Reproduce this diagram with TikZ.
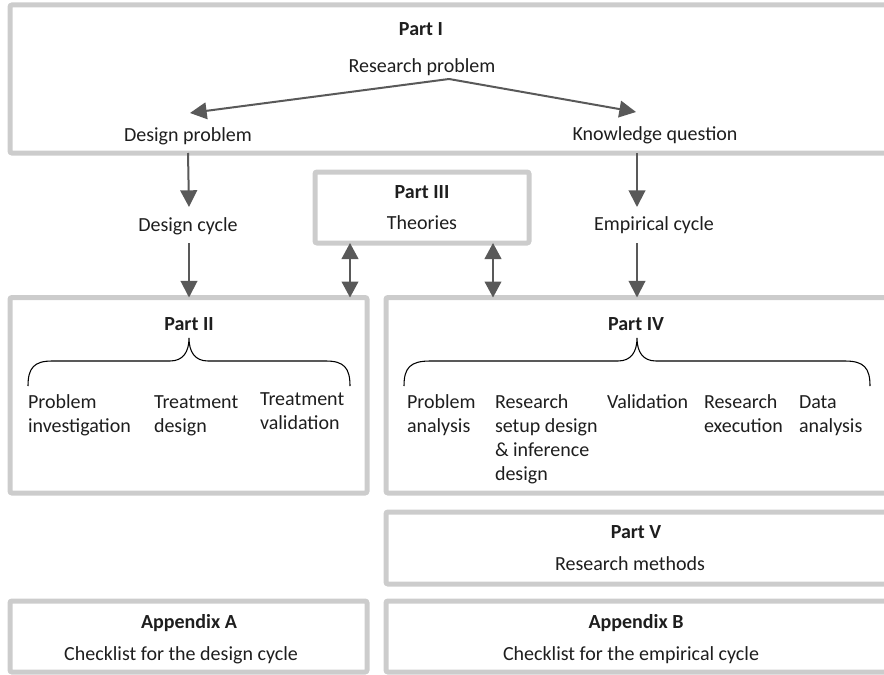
\documentclass[tikz,border=0pt]{standalone}
\usepackage{fontspec}
\setmainfont{Carlito}
\usetikzlibrary{arrows.meta,calc,fit}
\definecolor{boxgray}{RGB}{204,204,204}
\definecolor{arrgray}{RGB}{89,89,89}
\definecolor{txt}{RGB}{30,30,30}
\begin{document}
\begin{tikzpicture}[x=0.75pt,y=-0.75pt,
  box/.style={draw=boxgray, line width=3.75pt, rounded corners=1.5pt, inner sep=0pt, outer sep=0pt},
  lbl/.style={inner sep=0pt, outer sep=0pt, text=txt, font=\fontsize{15}{18}\selectfont, anchor=base},
  head/.style={lbl, font=\fontsize{15}{18}\selectfont\bfseries},
  col/.style={lbl, anchor=base west, align=left},
  arr/.style={draw=arrgray, line width=1.5pt, -{Triangle[length=12.5pt,width=12.5pt]}},
  darr/.style={draw=arrgray, line width=1.5pt, {Triangle[length=12pt,width=12.5pt]}-{Triangle[length=12pt,width=12.5pt]}},
  brace/.style={draw=black, line width=0.8pt}
]
\clip (0,0) rectangle (884,674);

% boxes
\node[box, fit={(10,5) (900,153)}] (p1) {};
\node[box, fit={(315,172) (529,243)}] (p3) {};
\node[box, fit={(10,297.5) (367,493)}] (p2) {};
\node[box, fit={(386,297.5) (900,493)}] (p4) {};
\node[box, fit={(386,512) (900,584)}] (p5) {};
\node[box, fit={(10,601) (367,672)}] (pa) {};
\node[box, fit={(386,601) (900,672)}] (pb) {};

% Part I
\node[head] (t1) at (421,36) {Part I};
\node[lbl] (rp) at (422,73) {Research problem};
\node[lbl] (dp) at (188,141) {Design problem};
\node[lbl] (kq) at (655,140) {Knowledge question};

% cycles
\node[lbl] (dc) at (188,231) {Design cycle};
\node[lbl] (ec) at (654,230) {Empirical cycle};

% Part III
\node[head] (t3) at (422,198) {Part III};
\node[lbl] (th) at (422,229) {Theories};

% Part II (base anchor = baseline of the last line)
\node[head] (t2) at (189,330) {Part II};
\node[col] (c21) at (28,432) {Problem\\investigation};
\node[col] (c22) at (154,432) {Treatment\\design};
\node[col] (c23) at (260,429) {Treatment\\validation};

% Part IV
\node[head] (t4) at (636,330) {Part IV};
\node[col] (c41) at (407,432) {Problem\\analysis};
\node[col] (c42) at (495,480) {Research\\setup design\\\& inference\\design};
\node[col] (c43) at (607,408) {Validation};
\node[col] (c44) at (704,432) {Research\\execution};
\node[col] (c45) at (799,432) {Data\\analysis};

% Part V and appendices
\node[head] (t5) at (636,538) {Part V};
\node[lbl] (rm) at (630,570) {Research methods};
\node[head] (ta) at (189,628) {Appendix A};
\node[lbl] (ca) at (181,660) {Checklist for the design cycle};
\node[head] (tb) at (636,628) {Appendix B};
\node[lbl] (cb) at (631,660) {Checklist for the empirical cycle};

% braces
\draw[brace] (28,386) .. controls (28,368) and (34,361) .. (52,361) -- (170,361)
  .. controls (183,361) and (189,352) .. (189,338)
  .. controls (189,352) and (195,361) .. (208,361) -- (326,361)
  .. controls (344,361) and (350,368) .. (350,386);
\draw[brace] (404,386) .. controls (404,368) and (410,361) .. (430,361) -- (618,361)
  .. controls (631,361) and (637,352) .. (637,338)
  .. controls (637,352) and (643,361) .. (656,361) -- (845,361)
  .. controls (864,361) and (870,368) .. (870,386);

% arrows
\coordinate (apex) at ($(rp.base)+(27,6)$);
\draw[arr] (apex) -- ($(dp.base)+(2,-28)$);
\draw[arr] (apex) -- ($(kq.base)+(-19,-28)$);
\draw[arr] (dp.base |- p1.south) -- ($(dc.base)+(1,-24)$);
\draw[arr] ($(dc.base)+(1,12)$) -- ($(dc.base |- p2.north)+(1,0)$);
\draw[arr] ($(kq.base |- p1.south)+(-18,0)$) -- ($(ec.base)+(-17,-23)$);
\draw[arr] ($(ec.base)+(-17,13)$) -- ($(ec.base |- p4.north)+(-17,0)$);
\draw[darr] ($(p3.south west)+(35,0)$) -- ($(p3.south west |- p2.north)+(35,0)$);
\draw[darr] ($(p3.south east)+(-36,0)$) -- ($(p3.south east |- p4.north)+(-36,0)$);
\end{tikzpicture}
\end{document}
